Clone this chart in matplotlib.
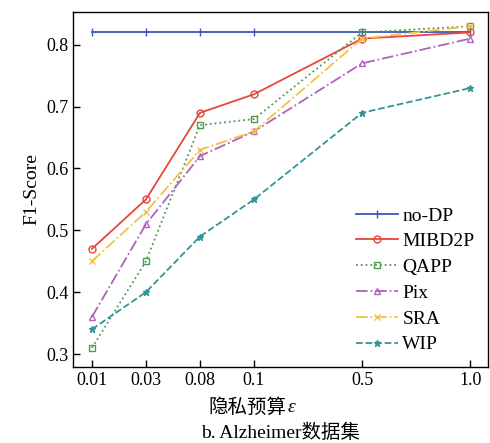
import matplotlib
matplotlib.use("Agg")
import matplotlib.pyplot as plt

plt.rcParams['font.family'] = ['Liberation Serif', 'Noto Sans CJK SC']

eps_labels = ['0.01', '0.03', '0.08', '0.1', '0.5', '1.0']
x_pos = [0, 1, 2, 3, 5, 7]

no_dp = [0.82, 0.82, 0.82, 0.82, 0.82, 0.82]
mibd2p = [0.47, 0.55, 0.69, 0.72, 0.81, 0.82]
qapp = [0.31, 0.45, 0.67, 0.68, 0.82, 0.83]
pix = [0.36, 0.51, 0.62, 0.66, 0.77, 0.81]
sra = [0.45, 0.53, 0.63, 0.66, 0.81, 0.83]
wip = [0.34, 0.40, 0.49, 0.55, 0.69, 0.73]

fig = plt.figure(figsize=(4.9, 4.43), dpi=100)
ax = fig.add_axes([73/490, 1-367/443, (488-73)/490, (367-12)/443])

lw = 1.3
ax.plot(x_pos, no_dp, color='#3b55b8', ls='-', marker='|', ms=6, mew=1.0, lw=lw, label='no-DP')
ax.plot(x_pos, mibd2p, color='#e8453c', ls='-', marker='o', ms=5, mfc='none', mew=1.0, lw=lw, label='MIBD2P')
ax.plot(x_pos, qapp, color='#4e9a4e', ls=':', marker='s', ms=5, mfc='none', mew=1.0, lw=lw, label='QAPP')
ax.plot(x_pos, pix, color='#b062be', ls='-.', marker='^', ms=5, mfc='none', mew=1.0, lw=lw, label='Pix')
ax.plot(x_pos, sra, color='#f2c144', ls='-.', marker='x', ms=5, mew=1.0, lw=lw, label='SRA')
ax.plot(x_pos, wip, color='#2e9696', ls='--', marker='*', ms=5, mew=1.0, lw=lw, label='WIP')

ax.set_xlim(-0.35, 7.33)
ax.set_ylim(0.279, 0.853)
ax.set_xticks(x_pos)
ax.set_xticklabels(eps_labels)
ax.set_yticks([0.3, 0.4, 0.5, 0.6, 0.7, 0.8])
ax.set_yticklabels(['0.3', '0.4', '0.5', '0.6', '0.7', '0.8'])
ax.tick_params(direction='in', labelsize=13, length=5, width=1)
for s in ax.spines.values():
    s.set_linewidth(1.0)

ax.set_ylabel('F1-Score', fontsize=14)
cx = (73 + 488) / 2 / 490
fig.text(cx + 0.012, 1 - 408/443, '隐私预算', ha='right', va='center', fontsize=14)
fig.text(cx + 0.014, 1 - 408/443, 'ε', ha='left', va='center', fontsize=14, style='italic',
         family=['Liberation Serif'])
fig.text(cx, 1 - 433/443, 'b. Alzheimer数据集', ha='center', va='center', fontsize=14)

leg = ax.legend(loc='lower right', frameon=False, fontsize=14, handlelength=2.2,
                handletextpad=0.2, labelspacing=0.42, borderaxespad=0.3)

fig.savefig('out.png', dpi=100)
